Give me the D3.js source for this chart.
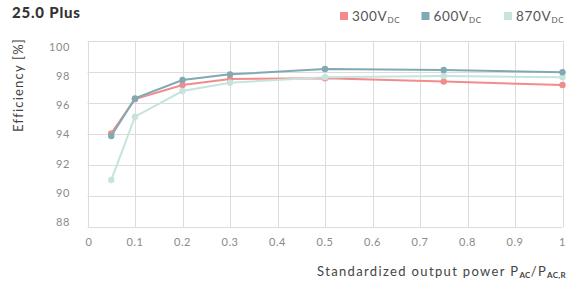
<!DOCTYPE html>
<html>
<head>
<meta charset="utf-8">
<style>
  html, body { margin: 0; padding: 0; background: #fff; }
  svg { display: block; font-family: Lato, "DejaVu Sans", sans-serif; }
</style>
</head>
<body>
<div id="chart"></div>
<script src="https://cdn.jsdelivr.net/npm/d3@7"></script>
<script>
var width = 569, height = 284;

// data
var loads = [0.05, 0.1, 0.2, 0.3, 0.5, 0.75, 1.0];
var eff300 = [94.04, 96.25, 97.16, 97.55, 97.59, 97.38, 97.16];
var eff600 = [93.87, 96.30, 97.48, 97.85, 98.19, 98.13, 97.98];
var eff870 = [91.03, 95.12, 96.77, 97.31, 97.66, 97.74, 97.66];
var seriesNames = ["300", "600", "870"];
var xTicks = [0, 0.1, 0.2, 0.3, 0.4, 0.5, 0.6, 0.7, 0.8, 0.9, 1];
var yTicks = [88, 90, 92, 94, 96, 98, 100];

var red = "#f28b8c", teal = "#80a9b3", mint = "#c6e4dd";

var series = [
  {name: "300", values: eff300, color: red},
  {name: "870", values: eff870, color: mint},
  {name: "600", values: eff600, color: teal}
];

var svg = d3.select("#chart").append("svg")
  .attr("width", width).attr("height", height);

var x = d3.scaleLinear().domain([0, 1]).range([87.5, 562.5]);
var y = d3.scaleLinear().domain([88, 100]).range([227, 41]);
// tick labels in the original sit a bit off their gridlines
var yLab = d3.scaleLinear().domain([88, 100]).range([222, 47]);

// grid
var grid = svg.append("g").attr("stroke", "#dcdcdc").attr("stroke-width", 1);
grid.selectAll("line.v").data(xTicks).join("line")
  .attr("x1", d => Math.round(x(d)) + 0.5).attr("x2", d => Math.round(x(d)) + 0.5)
  .attr("y1", y(100)).attr("y2", y(88));
grid.selectAll("line.h").data(yTicks).join("line")
  .attr("x1", x(0)).attr("x2", x(1))
  .attr("y1", d => Math.round(y(d)) + 0.5).attr("y2", d => Math.round(y(d)) + 0.5);

// tick labels
svg.append("g")
  .style("font-size", "11px").style("letter-spacing", "0.6px").attr("fill", "#8a8a8a")
  .selectAll("text").data(xTicks).join("text")
  .attr("x", d => x(d) + (d === 0 ? 1.5 : 0))
  .attr("y", 246)
  .attr("text-anchor", "middle")
  .text(d => d);

svg.append("g")
  .style("font-size", "11px").style("letter-spacing", "0.6px").attr("fill", "#8a8a8a")
  .selectAll("text").data(yTicks).join("text")
  .attr("x", 70)
  .attr("y", d => yLab(d))
  .attr("dy", "0.35em")
  .attr("text-anchor", "end")
  .text(d => d);

// lines + markers
var line = d3.line()
  .x((d, i) => x(loads[i]))
  .y(d => y(d));

var g = svg.append("g");
series.forEach(function(s) {
  g.append("path")
    .datum(s.values)
    .attr("fill", "none")
    .attr("stroke", s.color)
    .attr("stroke-width", 2)
    .attr("d", line);
  g.append("g").selectAll("circle").data(s.values).join("circle")
    .attr("cx", (d, i) => x(loads[i]))
    .attr("cy", d => y(d))
    .attr("r", 3.2)
    .attr("fill", s.color);
});

// title
svg.append("text")
  .attr("x", 12).attr("y", 18)
  .attr("fill", "#333")
  .style("font-size", "15px").style("font-weight", "900")
  .style("letter-spacing", "0.8px")
  .text("25.0 Plus");

// legend
var legX = [340, 421.5, 504];
var legendColors = {"300": red, "600": teal, "870": mint};
var leg = svg.append("g").selectAll("g").data(seriesNames).join("g")
  .attr("transform", (d, i) => "translate(" + legX[i] + ",0)");
leg.append("rect")
  .attr("x", 0).attr("y", 12).attr("width", 8).attr("height", 8)
  .attr("fill", d => legendColors[d]);
var lt = leg.append("text")
  .attr("x", 12).attr("y", 21)
  .attr("fill", "#555")
  .style("font-size", "13.5px")
  .style("letter-spacing", "0.7px");
lt.append("tspan").text(d => d + "V");
lt.append("tspan").attr("dy", 2).style("font-size", "8px").text("DC");

// axis titles
svg.append("text")
  .attr("transform", "translate(23,85) rotate(-90)")
  .attr("text-anchor", "middle")
  .attr("fill", "#444")
  .style("font-size", "13px")
  .style("letter-spacing", "1.2px")
  .text("Efficiency [%]");

var xt = svg.append("text")
  .attr("x", 566).attr("y", 276)
  .attr("text-anchor", "end")
  .attr("fill", "#444")
  .style("font-size", "13px")
  .style("letter-spacing", "1.35px");
xt.append("tspan").text("Standardized output power P");
xt.append("tspan").attr("dy", 2).style("font-size", "8px").style("font-weight", "bold").style("letter-spacing", "0.3px").text("AC");
xt.append("tspan").attr("dy", -2).text("/P");
xt.append("tspan").attr("dy", 2).style("font-size", "8px").style("font-weight", "bold").style("letter-spacing", "0.3px").text("AC,R");
</script>
</body>
</html>
